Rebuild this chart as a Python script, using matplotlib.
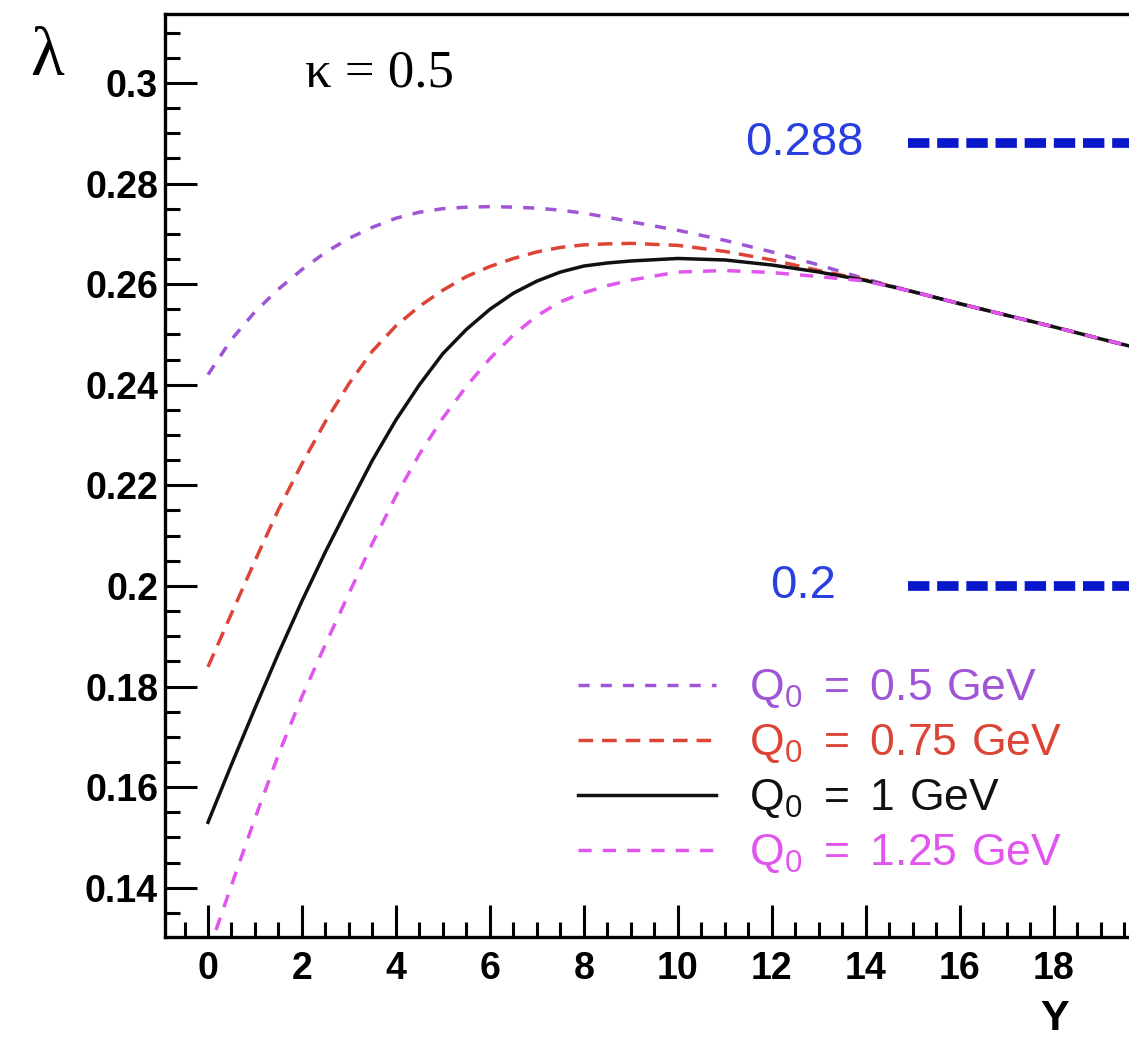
import matplotlib
matplotlib.use("Agg")
import matplotlib.pyplot as plt
from matplotlib.ticker import MultipleLocator
from matplotlib.lines import Line2D

# rapidity grid
Y = [0, 0.5, 1, 1.5, 2, 2.5, 3, 3.5, 4, 4.5, 5, 5.5, 6, 6.5, 7, 7.5, 8, 8.5, 9,
     10, 11, 12, 13, 14, 15, 16, 17, 18, 19, 20]

# all four curves coincide for Y >= 15
tail = [0.2585, 0.2561, 0.2538, 0.2515, 0.2491, 0.2468]

lam_q050 = [0.2420, 0.2490, 0.2545, 0.2590, 0.2629, 0.2663, 0.2691, 0.2713, 0.2731,
            0.2743, 0.2750, 0.2753, 0.2754, 0.2753, 0.2751, 0.2747, 0.2741, 0.2733,
            0.2724, 0.2707, 0.2687, 0.2664, 0.2638, 0.2610] + tail
lam_q075 = [0.1839, 0.1945, 0.2050, 0.2152, 0.2243, 0.2327, 0.2402, 0.2467, 0.2517,
            0.2556, 0.2588, 0.2615, 0.2635, 0.2651, 0.2664, 0.2673, 0.2678, 0.2680,
            0.2681, 0.2677, 0.2665, 0.2648, 0.2627, 0.2608] + tail
lam_q100 = [0.1530, 0.1645, 0.1757, 0.1866, 0.1970, 0.2068, 0.2160, 0.2250, 0.2330,
            0.2400, 0.2462, 0.2510, 0.2550, 0.2582, 0.2606, 0.2624, 0.2636, 0.2642,
            0.2646, 0.2651, 0.2648, 0.2638, 0.2624, 0.2607] + tail
lam_q125 = [0.1270, 0.1405, 0.1538, 0.1665, 0.1780, 0.1884, 0.1985, 0.2085, 0.2179,
            0.2262, 0.2334, 0.2397, 0.2452, 0.2499, 0.2537, 0.2565, 0.2583, 0.2597,
            0.2608, 0.2624, 0.2627, 0.2623, 0.2615, 0.2606] + tail

labels = [r'$\mathregular{Q_0\;=\;0.5\ GeV}$', r'$\mathregular{Q_0\;=\;0.75\ GeV}$',
          r'$\mathregular{Q_0\;=\;1\ GeV}$', r'$\mathregular{Q_0\;=\;1.25\ GeV}$']
colors = ['#9f55d6', '#dc4436', '#111111', '#e055ee']
styles = [(0, (3.2, 3.2)), (0, (4.2, 2.6)), '-', (0, (3.8, 3.2))]

# asymptotic values
asym_vals = [0.288, 0.2]
asym_start = 14.9
asym_text_x = [11.43, 11.96]

yticks = [0.14, 0.16, 0.18, 0.2, 0.22, 0.24, 0.26, 0.28, 0.3]
ytick_labels = ['0.14', '0.16', '0.18', '0.2', '0.22', '0.24', '0.26', '0.28', '0.3']
xticks = [0, 2, 4, 6, 8, 10, 12, 14, 16, 18]

plt.rcParams['font.family'] = ['Liberation Sans', 'DejaVu Sans']

fig = plt.figure(figsize=(11.29, 10.39), dpi=100)
ax = fig.add_axes([165 / 1129, 102 / 1039, 964 / 1129, 923 / 1039])

for lam, c, s in zip([lam_q050, lam_q075, lam_q100, lam_q125], colors, styles):
    ax.plot(Y, lam, color=c, lw=2.5, ls=s)

for v, tx in zip(asym_vals, asym_text_x):
    ax.hlines(v, asym_start, 20, color='#0a18cc', lw=7, linestyles=(0, (2.2, 0.8)))
    ax.text(tx, v, str(v), color='#2a3fe0', fontsize=34, ha='left', va='center')

ax.set_xlim(-0.915, 19.6)
ax.set_ylim(0.1302, 0.3137)

ax.set_xticks(xticks)
ax.set_xticklabels([str(t) for t in xticks])
ax.set_yticks(yticks)
ax.set_yticklabels(ytick_labels)
ax.xaxis.set_minor_locator(MultipleLocator(0.5))
ax.yaxis.set_minor_locator(MultipleLocator(0.005))

ax.tick_params(which='both', direction='in', width=2.2, top=False, right=False)
ax.tick_params(which='major', length=23)
ax.tick_params(which='minor', length=11)
ax.tick_params(axis='x', which='major', pad=10, labelsize=27)
ax.tick_params(axis='y', which='major', pad=5, labelsize=27)
for lab in ax.get_xticklabels() + ax.get_yticklabels():
    lab.set_fontweight('bold')

for side in ['left', 'bottom', 'top']:
    ax.spines[side].set_linewidth(2.4)
ax.spines['right'].set_visible(False)

ax.set_ylabel('λ', rotation=0, fontsize=50, va='center',
              family=['Liberation Serif', 'DejaVu Serif'])
ax.yaxis.set_label_coords(-0.122, 0.952)
ax.set_xlabel('Y', fontsize=31, fontweight='bold', va='top')
ax.xaxis.set_label_coords(0.923, -0.067)

ax.text(0.145, 0.936, 'κ = 0.5', transform=ax.transAxes, fontsize=38,
        family=['Liberation Serif', 'DejaVu Serif'], ha='left', va='center')

handles = [Line2D([], [], color=c, lw=2.5, ls=s) for c, s in zip(colors, styles)]
ax.legend(handles, labels, loc='upper left', bbox_to_anchor=(0.4284, 0.292),
          frameon=False, fontsize=32, labelcolor=colors, handlelength=3.1,
          handletextpad=0.75, labelspacing=0.27, borderpad=0, borderaxespad=0)

fig.savefig('out.png', dpi=100)
